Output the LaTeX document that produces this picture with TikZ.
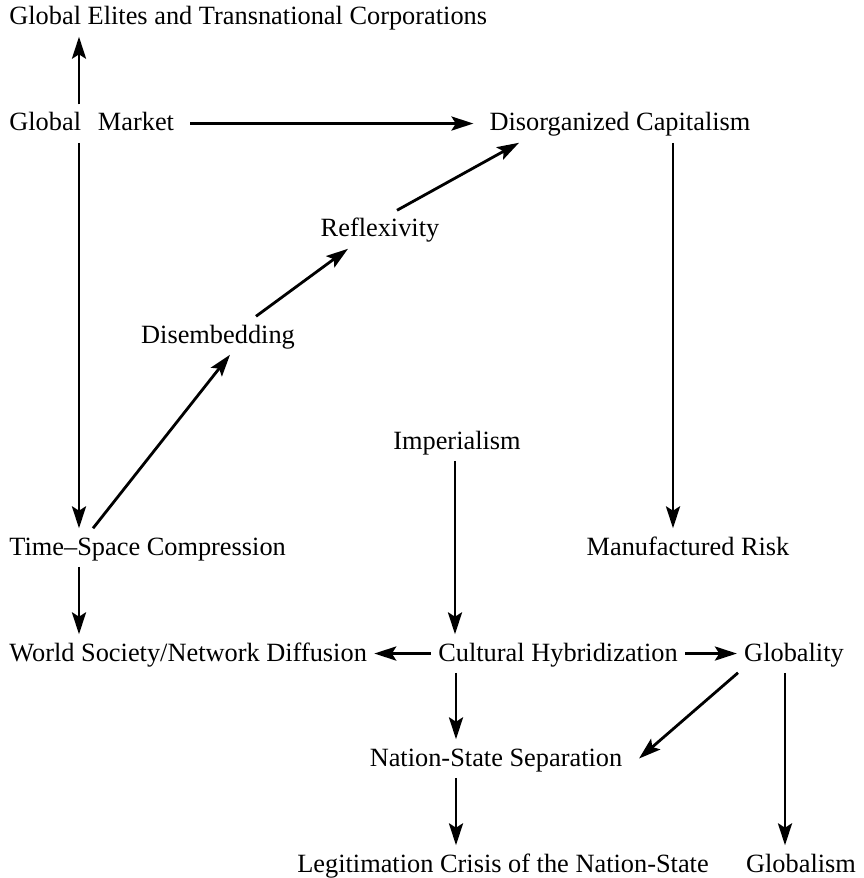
\documentclass[tikz,border=0pt]{standalone}
\usepackage{fontspec}
\setmainfont{Liberation Serif}
\usetikzlibrary{arrows.meta, positioning}

\begin{document}
\begin{tikzpicture}[
    x=0.02cm, y=-0.02cm,
    every node/.style={font=\fontsize{15}{18}\selectfont, anchor=base, text height=12pt, text depth=3.5pt, inner xsep=4pt, inner ysep=3pt},
    arrow/.style={-{Stealth[length=12.5pt, width=8pt, inset=2.5pt]}, line width=1.6pt}
]
\useasboundingbox (0,0) rectangle (863,878);

% Nodes
\node (elites) [anchor=base west] at (2,25) {Global Elites and Transnational Corporations};
\node (market) [anchor=base west] at (2,131) {Global\hspace{0.64em}Market};
\node (disorg) at (620,131) {Disorganized Capitalism};
\node (reflex) at (380,237) {Reflexivity};
\node (disemb) at (218,343) {Disembedding};
\node (imper) at (457,449) {Imperialism};
\node (tsc) [anchor=base west] at (2,555) {Time--Space Compression};
\node (risk) at (688,555) {Manufactured Risk};
\node (world) [anchor=base west] at (2,661) {World Society/Network Diffusion};
\node (hybrid) at (558,661) {Cultural Hybridization};
\node (globality) at (794,661) {Globality};
\node (nation) at (496,766) {Nation-State Separation};
\node (legit) at (503,872) {Legitimation Crisis of the Nation-State};
\node (globalism) at (801,872) {Globalism};

% Arrows
\draw [arrow] (market.north -| 79,0) -- (elites.south -| 79,0);
\draw [arrow, shorten <=5pt, shorten >=5pt] (market.east) -- (disorg.west);
\draw [arrow] (market.south -| 79,0) -- (tsc.north -| 79,0);
\draw [arrow] (disorg.south -| 673,0) -- (risk.north -| 673,0);
\draw [arrow] (tsc.north -| 93,0) -- (disemb.south -| 230,0);
\draw [arrow] (disemb.north -| 256,0) -- (reflex.south -| 348,0);
\draw [arrow] (reflex.north -| 397,0) -- (disorg.south -| 519,0);
\draw [arrow] (tsc.south -| 79,0) -- (world.north -| 79,0);
\draw [arrow] (imper.south -| 455,0) -- (hybrid.north -| 455,0);
\draw [arrow] (hybrid.west) -- (world.east);
\draw [arrow] (hybrid.east) -- (globality.west);
\draw [arrow] (hybrid.south -| 456,0) -- (nation.north -| 456,0);
\draw [arrow] (globality.south -| 738,0) -- (nation.east -| 639,0);
\draw [arrow] (globality.south -| 785,0) -- (globalism.north -| 785,0);
\draw [arrow] (nation.south -| 456,0) -- (legit.north -| 456,0);

\end{tikzpicture}
\end{document}
